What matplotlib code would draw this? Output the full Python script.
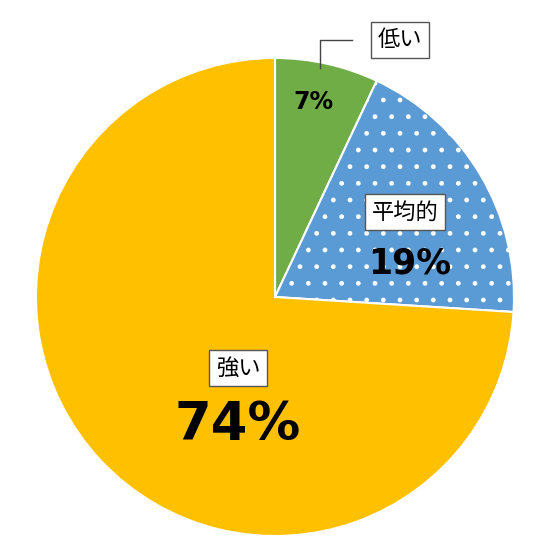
import matplotlib
matplotlib.use("Agg")
import matplotlib.pyplot as plt

plt.rcParams['font.family'] = ['Noto Sans CJK JP', 'DejaVu Sans']
plt.rcParams['hatch.linewidth'] = 1.0
plt.rcParams['hatch.color'] = '#B8D3EE'
labels = ['低い', '平均的', '強い']
values = [7, 19, 74]
colors = ['#70AD47', '#5B9BD5', '#FFC000']

fig = plt.figure(figsize=(5.5, 5.6), dpi=100)
ax = fig.add_axes([0, 0, 1, 1])

def Y(y):  # convert image y to data y
    return 560 - y

cx, cy, r = 275, 297, 239
wedges, _ = ax.pie(values, colors=colors, startangle=90, counterclock=False,
                   center=(cx, Y(cy)), radius=r, frame=True,
                   wedgeprops=dict(edgecolor='white', linewidth=1.5))
ax.set_xlim(0, 550); ax.set_ylim(0, 560); ax.set_aspect('equal'); ax.axis('off')
wedges[1].set_hatch('.')

pct_font = ['DejaVu Sans']
box = dict(boxstyle='square,pad=0.3', fc='white', ec='#555555', lw=1)
ax.plot([320, 320, 352], [Y(68), Y(40), Y(40)], color='#444444', lw=1)
ax.text(400, Y(40), labels[0], ha='center', va='center', fontsize=16, bbox=box)
ax.text(313, Y(102), f'{values[0]}%', ha='center', va='center', fontsize=17,
        fontweight='bold', family=pct_font)
ax.text(405, Y(212), labels[1], ha='center', va='center', fontsize=16, bbox=box)
ax.text(410, Y(263), f'{values[1]}%', ha='center', va='center', fontsize=25,
        fontweight='bold', family=pct_font)
ax.text(238, Y(368), labels[2], ha='center', va='center', fontsize=16, bbox=box)
ax.text(238, Y(425), f'{values[2]}%', ha='center', va='center', fontsize=38,
        fontweight='bold', family=pct_font)
fig.savefig('out.png', dpi=100)
